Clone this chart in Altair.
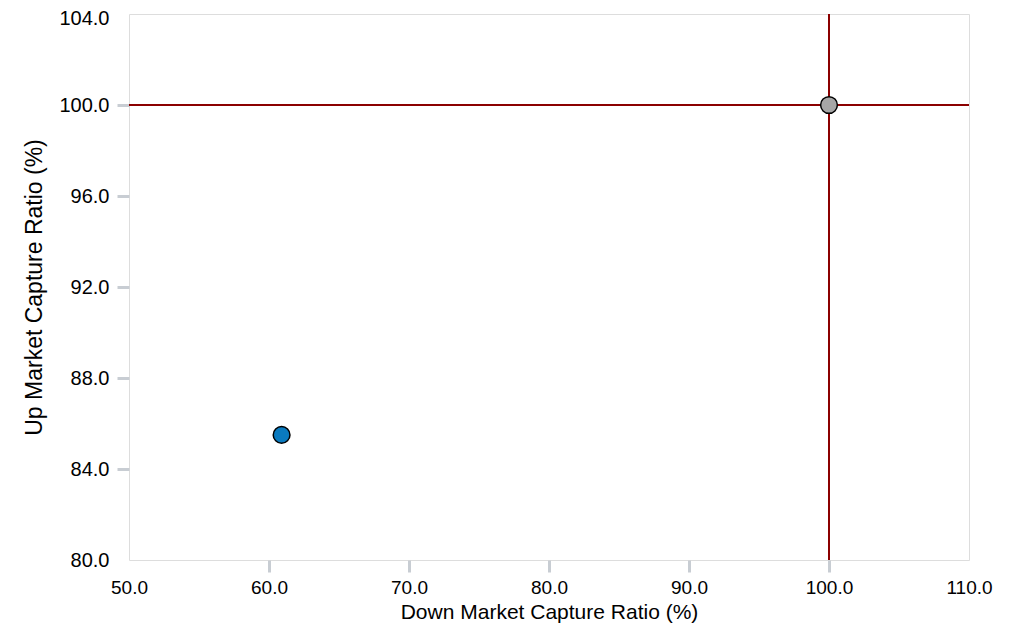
import altair as alt
import pandas as pd

# data
names = ["Fund", "Benchmark"]
down_capture = [60.9, 100.0]
up_capture = [85.5, 100.0]
fills = ["#0a7abf", "#a6a6a6"]
ref_x = [100.0]
ref_y = [100.0]
x_ticks = [50, 60, 70, 80, 90, 100, 110]
y_ticks = [80, 84, 88, 92, 96, 100, 104]

pts = pd.DataFrame({"name": names, "down": down_capture, "up": up_capture, "fill": fills})
vline = pd.DataFrame({"v": ref_x})
hline = pd.DataFrame({"v": ref_y})

FONT = "Liberation Sans"

x_axis = alt.Axis(
    values=x_ticks, format=".1f", grid=False, domain=False, labelFlush=False, labelOverlap=False,
    tickColor="#c8cdd3", tickWidth=3, tickSize=12,
    tickOpacity={"condition": {"test": "datum.value == 50 || datum.value == 110", "value": 0}, "value": 1},
    labelFont=FONT, labelFontSize=19, labelColor="#000000", labelPadding=6,
    titleFont=FONT, titleFontSize=21, titleFontWeight="normal", titleColor="#000000",
    titleBaseline="alphabetic", titleY=58,
)
y_axis = alt.Axis(
    values=y_ticks, format=".1f", grid=False, domain=False, labelFlush=False, labelOverlap=False,
    tickColor="#c8cdd3", tickWidth=3, tickSize=12,
    tickOpacity={"condition": {"test": "datum.value == 80 || datum.value == 104", "value": 0}, "value": 1},
    labelOffset={"condition": {"test": "datum.value == 104", "value": 4}, "value": 0},
    labelFont=FONT, labelFontSize=20, labelColor="#000000", labelPadding=8,
    titleFont=FONT, titleFontSize=23, titleFontWeight="normal", titleColor="#000000", titlePadding=12,
)

xs = alt.Scale(domain=[50, 110], nice=False, zero=False)
ys = alt.Scale(domain=[80, 104], nice=False, zero=False)

vr = alt.Chart(vline).mark_rule(color="#8b0000", strokeWidth=2).encode(
    x=alt.X("v:Q", scale=xs, axis=x_axis, title="Down Market Capture Ratio (%)")
)
hr = alt.Chart(hline).mark_rule(color="#8b0000", strokeWidth=2).encode(
    y=alt.Y("v:Q", scale=ys, axis=y_axis, title="Up Market Capture Ratio (%)")
)
points = alt.Chart(pts).mark_circle(size=280, opacity=1, stroke="#000000", strokeWidth=1.5).encode(
    x=alt.X("down:Q", scale=xs),
    y=alt.Y("up:Q", scale=ys),
    fill=alt.Fill("fill:N", scale=None),
)

chart = alt.layer(vr, hr, points).properties(
    width=840, height=546,
    autosize=alt.AutoSizeParams(type="none"),
    padding={"left": 121, "top": 6, "right": 36, "bottom": 63},
).configure_view(stroke="#c8c8c8", strokeWidth=2).configure(background="white")

chart.save("out.html", embed_options={"renderer": "svg", "actions": False})
